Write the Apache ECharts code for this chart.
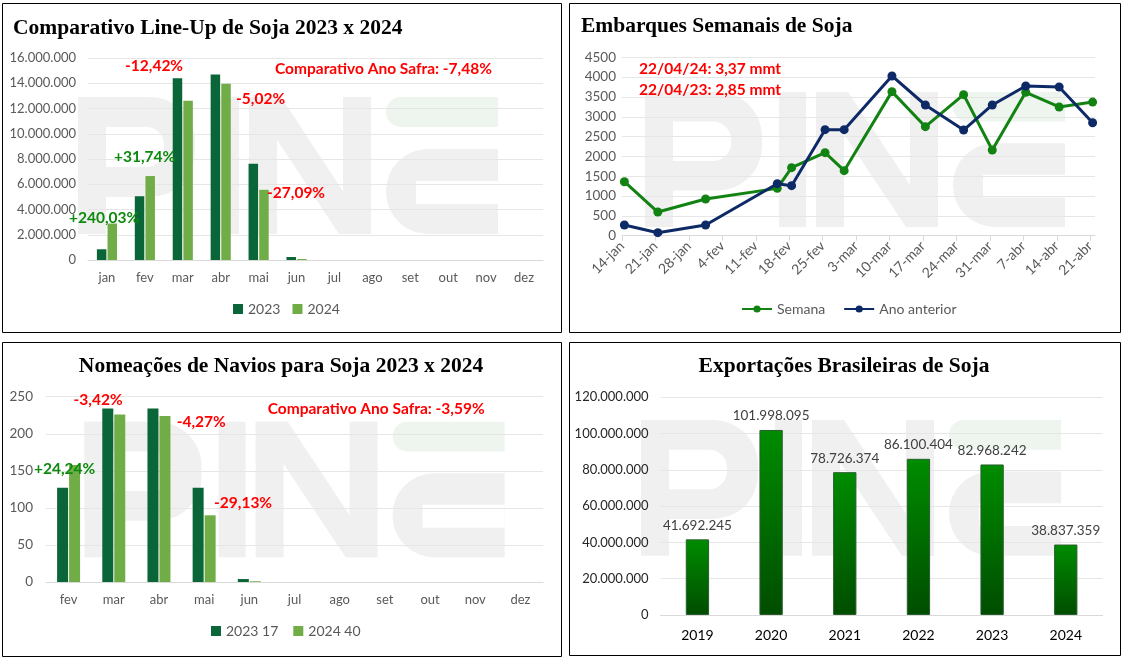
<!DOCTYPE html>
<html><head><meta charset="utf-8">
<script src="https://cdn.jsdelivr.net/npm/echarts@6/dist/echarts.min.js"></script>
<style>html,body{margin:0;padding:0;background:#fff}#c{width:1124px;height:660px}</style>
</head><body><div id="c"></div>
<script>
// ---------- DATA ----------
// Panel 1: Line-Up
const lineupMonths = ['jan','fev','mar','abr','mai','jun','jul','ago','set','out','nov','dez'];
const lineup2023 = [850000, 5050000, 14400000, 14700000, 7620000, 240000, 0, 0, 0, 0, 0, 0];
const lineup2024 = [2890000, 6650000, 12610000, 13960000, 5560000, 80000, 0, 0, 0, 0, 0, 0];
const lineupNotes = ['-12,42%', 'Comparativo Ano Safra: -7,48%', '-5,02%', '+31,74%', '-27,09%', '+240,03%'];

// Panel 2: Embarques semanais
const weekDates = ['2024-01-14','2024-01-21','2024-01-31','2024-02-15','2024-02-18','2024-02-25','2024-02-29','2024-03-10','2024-03-17','2024-03-25','2024-03-31','2024-04-07','2024-04-14','2024-04-21'];
const semana = [1362, 597, 925, 1194, 1716, 2094, 1640, 3634, 2750, 3558, 2162, 3617, 3247, 3370];
const anoAnterior = [269, 76, 269, 1312, 1262, 2675, 2675, 4029, 3297, 2666, 3297, 3777, 3751, 2850];
const weekTickLabels = ['14-jan','21-jan','28-jan','4-fev','11-fev','18-fev','25-fev','3-mar','10-mar','17-mar','24-mar','31-mar','7-abr','14-abr','21-abr'];
const weekNotes = ['22/04/24: 3,37 mmt', '22/04/23: 2,85 mmt'];

// Panel 3: Nomeações de navios
const navMonths = ['fev','mar','abr','mai','jun','jul','ago','set','out','nov','dez'];
const nav2023 = [127, 234, 234, 127, 4, 0, 0, 0, 0, 0, 0];
const nav2024 = [158, 226, 224, 90, 1, 0, 0, 0, 0, 0, 0];
const navNotes = ['-3,42%', 'Comparativo Ano Safra: -3,59%', '-4,27%', '+24,24%', '-29,13%'];

// Panel 4: Exportações
const expYears = ['2019','2020','2021','2022','2023','2024'];
const expValues = [41692245, 101998095, 78726374, 86100404, 82968242, 38837359];

// ---------- HELPERS ----------
const SANS = 'Lato';
const fmt = v => String(Math.round(v)).replace(/\B(?=(\d{3})+(?!\d))/g, '.');
const day0 = Date.parse('2024-01-14T00:00:00Z');
const dayIdx = d => (Date.parse(d + 'T00:00:00Z') - day0) / 86400000;
const RED = '#ff0000', GREEN = '#0c8a0c';
const C23 = '#0a6638', C24 = '#70ad47';

function wm(x, y, sy) {
  const g = '#f0f0f0', w = '#ffffff', gt = '#edf5ee';
  const R = (x, y, w_, h, fill, r, z) => ({type:'rect', z: z || -10, silent:true, shape:{x, y, width:w_, height:h, r: r || 0}, style:{fill}});
  return {
    type:'group', x, y, scaleY: sy, silent:true,
    children: [
      R(0, 0, 28, 137, g),
      R(0, 0, 117, 100, g, [0, 45, 45, 0]),
      R(28, 30, 58, 40, w, [0, 18, 18, 0], -9),
      R(134, 0, 27, 137, g),
      R(171, 0, 28, 137, g),
      R(265, 0, 28, 137, g),
      {type:'polygon', z:-10, silent:true, shape:{points:[[171,0],[203,0],[293,137],[261,137]]}, style:{fill:g}},
      R(308, 0, 112, 30, gt, [15, 0, 0, 15]),
      R(308, 52, 112, 85, g, [42, 0, 0, 42]),
      R(338, 84, 82, 23, w, 0, -9)
    ]
  };
}
const txt = (text, x, y, font, fill, align) => ({
  type:'text', z: 100, silent:true,
  style:{text, x, y, font, fill, textAlign: align || 'left', textVerticalAlign:'middle'}
});
const TITLE = 'bold 21.5px "Liberation Serif"';
const NOTE = 'bold 15.5px ' + SANS;
const border = (x, y, w, h) => ({type:'rect', z: 50, silent:true, shape:{x, y, width:w, height:h}, style:{fill:'none', stroke:'#000', lineWidth:1}});

const axisLbl = {color:'#595959', fontSize:13, fontFamily:SANS};
const splitL = {show:true, lineStyle:{color:'#e6e6e6', width:1}};
const axLine = {show:true, lineStyle:{color:'#d9d9d9', width:1}};
const legText = {color:'#595959', fontSize:14, fontFamily:SANS};

const option = {
  animation:false,
  backgroundColor:'#ffffff',
  grid: [
    {left:88, top:58, width:455, height:202},
    {left:622, top:57.3, width:473, height:178.4},
    {left:46, top:396.7, width:497, height:185.3},
    {left:660.6, top:397.3, width:442, height:217.7}
  ],
  xAxis: [
    {type:'category', gridIndex:0, data:lineupMonths, axisLine:axLine, axisTick:{show:false}, axisLabel:{...axisLbl, margin:11}},
    {type:'value', gridIndex:1, min:0, max:99, interval:7, axisLine:axLine, splitLine:{show:false},
      axisTick:{show:true, length:5, lineStyle:{color:'#d9d9d9'}},
      axisLabel:{...axisLbl, fontSize:14, rotate:45, margin:8, showMaxLabel:false,
        formatter: v => (v % 7 === 0 && v / 7 < weekTickLabels.length) ? weekTickLabels[v / 7] : ''}},
    {type:'category', gridIndex:2, data:navMonths, axisLine:axLine, axisTick:{show:false}, axisLabel:{...axisLbl, margin:11}},
    {type:'category', gridIndex:3, data:expYears, axisLine:axLine, axisTick:{show:false}, axisLabel:{color:'#000', fontSize:14, fontFamily:SANS, margin:13}}
  ],
  yAxis: [
    {type:'value', gridIndex:0, min:0, max:16000000, interval:2000000, splitLine:splitL, axisLine:{show:false}, axisTick:{show:false}, axisLabel:{...axisLbl, margin:12, formatter:fmt}},
    {type:'value', gridIndex:1, min:0, max:4500, interval:500, splitLine:splitL, axisLine:{show:false}, axisTick:{show:false}, axisLabel:{...axisLbl, fontSize:13.5, margin:6, formatter: v => String(v)}},
    {type:'value', gridIndex:2, min:0, max:250, interval:50, splitLine:splitL, axisLine:{show:false}, axisTick:{show:false}, axisLabel:{...axisLbl, fontSize:13.5, margin:13, formatter: v => String(v)}},
    {type:'value', gridIndex:3, min:0, max:120000000, interval:20000000, splitLine:splitL, axisLine:{show:false}, axisTick:{show:false}, axisLabel:{color:'#262626', fontSize:13, fontFamily:SANS, margin:12, formatter:fmt}}
  ],
  legend: [
    {data:['2023','2024'], left:233, top:302, padding:0, itemWidth:10, itemHeight:10, itemGap:12, icon:'rect', textStyle:legText},
    {data:['Semana','Ano anterior'], left:741, top:302, padding:0, itemWidth:30, itemHeight:9, itemGap:18, textStyle:legText},
    {data:['2023 17','2024 40'], left:211, top:624, padding:0, itemWidth:10, itemHeight:10, itemGap:15, icon:'rect', textStyle:legText}
  ],
  series: [
    {name:'2023', type:'bar', xAxisIndex:0, yAxisIndex:0, data:lineup2023, barWidth:9.5, barGap:'12%', itemStyle:{color:C23}},
    {name:'2024', type:'bar', xAxisIndex:0, yAxisIndex:0, data:lineup2024, barWidth:9.5, barGap:'12%', itemStyle:{color:C24}},
    {name:'Semana', type:'line', xAxisIndex:1, yAxisIndex:1, data:weekDates.map((d, i) => [dayIdx(d) + 0.5, semana[i]]),
      symbol:'circle', symbolSize:9, lineStyle:{color:'#128312', width:3}, itemStyle:{color:'#128312'}, z:3},
    {name:'Ano anterior', type:'line', xAxisIndex:1, yAxisIndex:1, data:weekDates.map((d, i) => [dayIdx(d) + 0.5, anoAnterior[i]]),
      symbol:'circle', symbolSize:9, lineStyle:{color:'#0e2a66', width:3}, itemStyle:{color:'#0e2a66'}, z:4},
    {name:'2023 17', type:'bar', xAxisIndex:2, yAxisIndex:2, data:nav2023, barWidth:11, barGap:'9%', itemStyle:{color:C23}},
    {name:'2024 40', type:'bar', xAxisIndex:2, yAxisIndex:2, data:nav2024, barWidth:11, barGap:'9%', itemStyle:{color:C24}},
    {name:'Exportações', type:'bar', xAxisIndex:3, yAxisIndex:3, data:expValues, barWidth:23.3,
      itemStyle:{borderColor:'#285e2e', borderWidth:1,
        color:{type:'linear', x:0, y:0, x2:0, y2:1, colorStops:[{offset:0, color:'#008c00'}, {offset:1, color:'#004d00'}]}},
      label:{show:true, position:'top', distance:7, color:'#404040', fontSize:13.5, fontFamily:SANS, formatter: p => fmt(p.value)}}
  ],
  graphic: [
    wm(78, 97, 1.0), wm(645, 92, 0.985), wm(84.6, 421.7, 0.99), wm(641, 420, 0.99),
    border(2.5, 3.5, 559, 329), border(569.5, 3.5, 551, 329),
    border(2.5, 342.5, 559, 314), border(569.5, 342.5, 551, 313),
    txt('Comparativo Line-Up de Soja 2023 x 2024', 13, 28.3, TITLE, '#000'),
    txt('Embarques Semanais de Soja', 581, 26.7, TITLE, '#000'),
    txt('Nomeações de Navios para Soja 2023 x 2024', 281, 366, TITLE, '#000', 'center'),
    txt('Exportações Brasileiras de Soja', 844, 366.7, TITLE, '#000', 'center'),
    txt(lineupNotes[0], 125, 66.3, NOTE, RED),
    txt(lineupNotes[1], 275, 69.3, NOTE, RED),
    txt(lineupNotes[2], 236, 99.3, NOTE, RED),
    txt(lineupNotes[3], 114, 156.7, NOTE, GREEN),
    txt(lineupNotes[4], 267, 192.5, NOTE, RED),
    txt(lineupNotes[5], 69, 217.7, NOTE, GREEN),
    txt(weekNotes[0], 639, 69, NOTE, RED),
    txt(weekNotes[1], 639, 90, NOTE, RED),
    txt(navNotes[0], 73.5, 400, NOTE, RED),
    txt(navNotes[1], 267.7, 409.2, NOTE, RED),
    txt(navNotes[2], 176.7, 422, NOTE, RED),
    txt(navNotes[3], 34, 469, NOTE, GREEN),
    txt(navNotes[4], 214, 503.3, NOTE, RED)
  ]
};
const chart = echarts.init(document.getElementById('c'), null, {renderer:'canvas'});
chart.setOption(option);
</script>
</body></html>
